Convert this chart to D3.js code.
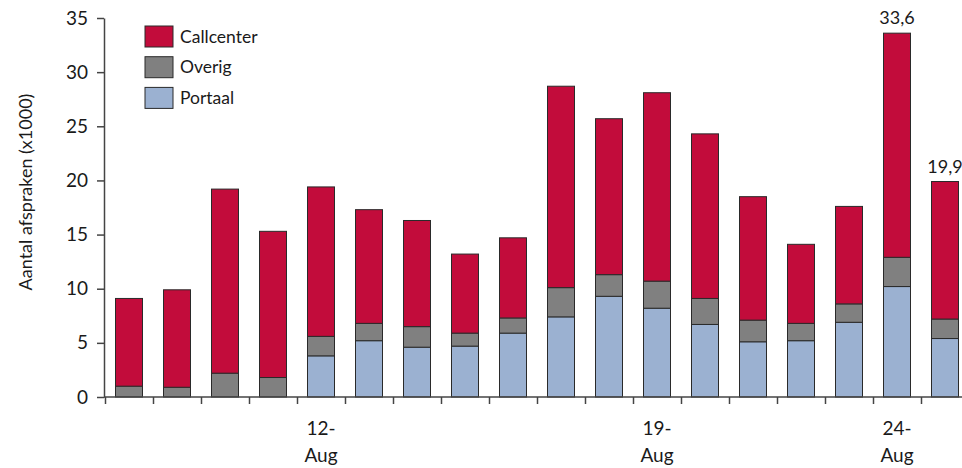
<!DOCTYPE html>
<html>
<head>
<meta charset="utf-8">
<script src="https://cdn.jsdelivr.net/npm/d3@7"></script>
<style>
  body { margin: 0; background: #fff; }
  svg text { font-family: Lato, "Open Sans", sans-serif; fill: #1a1a1a; }
</style>
</head>
<body>
<div id="chart"></div>
<script>
// days 8 Aug .. 25 Aug
const days = ["8-Aug", "9-Aug", "10-Aug", "11-Aug", "12-Aug", "13-Aug", "14-Aug", "15-Aug", "16-Aug",
  "17-Aug", "18-Aug", "19-Aug", "20-Aug", "21-Aug", "22-Aug", "23-Aug", "24-Aug", "25-Aug"];
const portaal = [0, 0, 0, 0, 3.8, 5.2, 4.6, 4.7, 5.9, 7.4, 9.3, 8.2, 6.7, 5.1, 5.2, 6.9, 10.2, 5.4];
const overig = [1.0, 0.9, 2.2, 1.8, 1.8, 1.6, 1.9, 1.2, 1.4, 2.7, 2.0, 2.5, 2.4, 2.0, 1.6, 1.7, 2.7, 1.8];
const callcenter = [8.1, 9.0, 17.0, 13.5, 13.8, 10.5, 9.8, 7.3, 7.4, 18.6, 14.4, 17.4, 15.2, 11.4, 7.3, 9.0, 20.7, 12.7];
const labelledDays = ["12-Aug", "19-Aug", "24-Aug"];
const valueLabels = [{day: "24-Aug", text: "33,6"}, {day: "25-Aug", text: "19,9"}];
const yTicks = [0, 5, 10, 15, 20, 25, 30, 35];

const width = 962, height = 468;
const colors = {Portaal: "#9bb1d1", Overig: "#808080", Callcenter: "#c20c3b"};
const keys = ["Portaal", "Overig", "Callcenter"];

const rows = days.map((d, i) => ({day: d, Portaal: portaal[i], Overig: overig[i], Callcenter: callcenter[i]}));
const stacked = d3.stack().keys(keys)(rows);

const svg = d3.select("#chart").append("svg")
    .attr("width", width)
    .attr("height", height);

const x = d3.scaleBand()
    .domain(days)
    .range([105, 969])
    .paddingInner(0.4375)
    .paddingOuter(0.21875);

const y = d3.scaleLinear().domain([0, 35]).range([397, 18]);

// bars
svg.append("g")
  .selectAll("g")
  .data(stacked)
  .enter().append("g")
    .attr("fill", s => colors[s.key])
  .selectAll("rect")
  .data(s => s)
  .enter().append("rect")
    .attr("x", d => x(d.data.day))
    .attr("y", d => y(d[1]))
    .attr("width", x.bandwidth())
    .attr("height", d => y(d[0]) - y(d[1]))
    .attr("stroke", "#2a2a2a")
    .attr("stroke-width", 1);

// y axis
const yAxis = svg.append("g")
    .attr("transform", "translate(104,0)")
    .call(d3.axisLeft(y).tickValues(yTicks).tickSize(7).tickSizeOuter(0).tickPadding(9));
yAxis.selectAll("text").style("font-size", "19px").attr("fill", "#1a1a1a");
yAxis.selectAll("line, path").attr("stroke", "#444").attr("stroke-width", 1.5);

// x axis: ticks at band boundaries
const step = x.step();
const xEdges = d3.scaleLinear().domain([0, days.length]).range([105, 105 + step * days.length]);
const xAxis = svg.append("g")
    .attr("transform", "translate(0,397)")
    .call(d3.axisBottom(xEdges).tickValues(d3.range(0, days.length + 1)).tickFormat("").tickSize(7).tickSizeOuter(0));
xAxis.select(".domain").attr("d", "M104,0H962");
xAxis.selectAll("line, path").attr("stroke", "#444").attr("stroke-width", 1.5);

// date labels
const dateLabels = svg.append("g")
  .selectAll("text")
  .data(labelledDays)
  .enter().append("text")
    .attr("text-anchor", "middle")
    .style("font-size", "19px")
    .attr("x", d => x(d) + x.bandwidth() / 2);
dateLabels.append("tspan").attr("y", 435).text(d => d.split("-")[0] + "-");
dateLabels.append("tspan").attr("y", 462).attr("x", d => x(d) + x.bandwidth() / 2).text(d => d.split("-")[1]);

// value labels above bars
const totals = new Map(rows.map(r => [r.day, r.Portaal + r.Overig + r.Callcenter]));
svg.append("g")
  .selectAll("text")
  .data(valueLabels)
  .enter().append("text")
    .attr("text-anchor", "middle")
    .style("font-size", "18px")
    .attr("x", d => x(d.day) + x.bandwidth() / 2)
    .attr("y", d => y(totals.get(d.day)) - 9)
    .text(d => d.text);

// y title
svg.append("text")
    .attr("transform", "translate(32,192)rotate(-90)")
    .attr("text-anchor", "middle")
    .style("font-size", "18px")
    .text("Aantal afspraken (x1000)");

// legend
const legend = svg.append("g")
  .selectAll("g")
  .data(["Callcenter", "Overig", "Portaal"])
  .enter().append("g")
    .attr("transform", (d, i) => "translate(145," + (26 + i * 30.7) + ")");
legend.append("rect")
    .attr("width", 28)
    .attr("height", 21)
    .attr("fill", d => colors[d])
    .attr("stroke", "#2a2a2a");
legend.append("text")
    .attr("x", 35)
    .attr("y", 16.5)
    .style("font-size", "17.5px")
    .text(d => d);
</script>
</body>
</html>
